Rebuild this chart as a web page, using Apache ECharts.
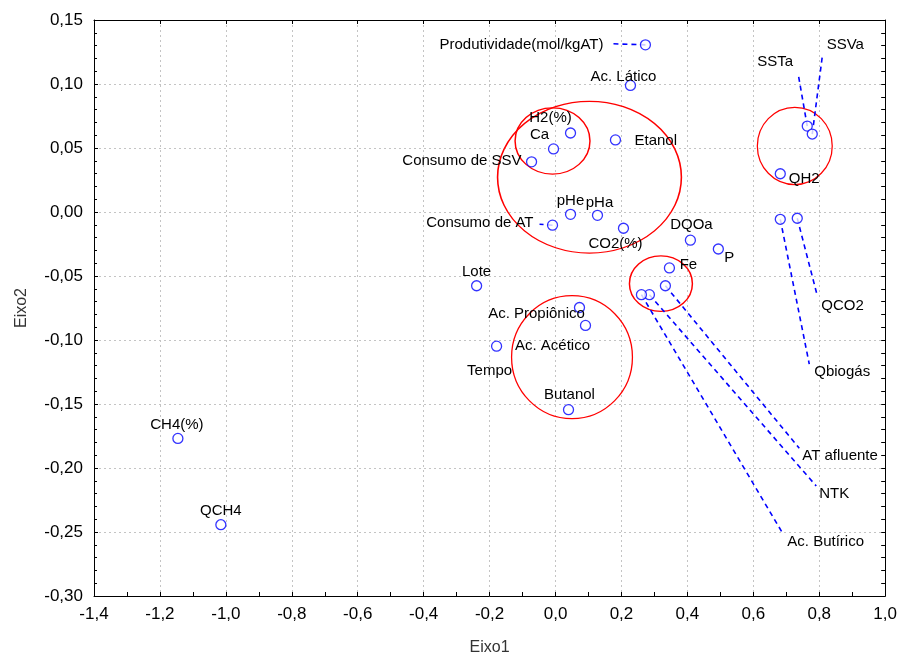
<!DOCTYPE html>
<html>
<head>
<meta charset="utf-8">
<script src="https://cdn.jsdelivr.net/npm/echarts@6/dist/echarts.min.js"></script>
<style>
  html, body { margin: 0; padding: 0; background: #fff; }
  #chart { width: 900px; height: 661px; }
</style>
</head>
<body>
<div id="chart"></div>
<script>
// variable names and their scores on the two axes
const names = [
  'Produtividade(mol/kgAT)', 'Ac. Lático', 'H2(%)', 'Ca', 'Etanol', 'Consumo de SSV',
  'pHe', 'pHa', 'Consumo de AT', 'CO2(%)', 'DQOa', 'P', 'Fe', 'Lote',
  'AT afluente', 'NTK', 'Ac. Butírico', 'Ac. Propiônico', 'Ac. Acético', 'Tempo',
  'Butanol', 'CH4(%)', 'QCH4', 'SSTa', 'SSVa', 'QH2', 'Qbiogás', 'QCO2'
];
const eixo1 = [
  0.2727, 0.2273, 0.0455, -0.0061, 0.1818, -0.0727,
  0.0455, 0.1273, -0.0091, 0.2061, 0.4091, 0.4939, 0.3455, -0.2394,
  0.3333, 0.2848, 0.2606, 0.0727, 0.0909, -0.1788,
  0.0394, -1.1455, -1.0152, 0.7636, 0.7788, 0.6818, 0.6818, 0.7333
];
const eixo2 = [
  0.1306, 0.0989, 0.0617, 0.0493, 0.0563, 0.0392,
  -0.0018, -0.0026, -0.0103, -0.0127, -0.0220, -0.0289, -0.0437, -0.0576,
  -0.0576, -0.0646, -0.0646, -0.0746, -0.0886, -0.1048,
  -0.1544, -0.1769, -0.2443, 0.0671, 0.0609, 0.0299, -0.0057, -0.0049
];

// labels placed away from their point, joined by a dashed line
const leaderNames = ['Produtividade(mol/kgAT)', 'Consumo de AT', 'SSTa', 'SSVa', 'QCO2',
  'Qbiogás', 'AT afluente', 'NTK', 'Ac. Butírico'];
const leaderEndX = [0.1758, -0.0485, 0.7364, 0.8091, 0.7939, 0.7697, 0.7394, 0.7909, 0.6879];
const leaderEndY = [0.1314, -0.0096, 0.1074, 0.1213, -0.0653, -0.1188, -0.1846, -0.2141, -0.2505];

// red groupings: centre and radii in axis units
const groupX = [-0.0091, 0.1030, 0.3197, 0.0500, 0.7258];
const groupY = [0.0555, 0.0272, -0.0560, -0.1134, 0.0516];
const groupRx = [0.1136, 0.2788, 0.0955, 0.1833, 0.1136];
const groupRy = [0.0259, 0.0593, 0.0217, 0.0480, 0.0302];

// label placement (pixels from the point / leader end)
const labelPlace = {
  'Ac. Lático': ['center', -7, -9],
  'H2(%)': ['center', -20, -15],
  'Ca': ['center', -14, -14],
  'Etanol': ['left', 19, 1],
  'Consumo de SSV': ['right', -10, -1],
  'pHe': ['center', 0, -13],
  'pHa': ['center', 2, -12],
  'CO2(%)': ['center', -8, 16],
  'DQOa': ['center', 1, -15],
  'P': ['center', 11, 9],
  'Fe': ['center', 19, -3],
  'Lote': ['center', 0, -14],
  'Ac. Propiônico': ['center', -43, 6],
  'Ac. Acético': ['center', -33, 20],
  'Tempo': ['center', -7, 25],
  'Butanol': ['center', 1, -15],
  'CH4(%)': ['center', -1, -14],
  'QCH4': ['center', 0, -14],
  'QH2': ['center', 24, 5],
  'Produtividade(mol/kgAT)': ['right', -10, 1],
  'Consumo de AT': ['right', -6, -1],
  'SSTa': ['center', -23, -13],
  'SSVa': ['center', 23, -12],
  'QCO2': ['left', 4, 10],
  'Qbiogás': ['left', 5, 8],
  'AT afluente': ['left', 3, 8],
  'NTK': ['left', 3, 8],
  'Ac. Butírico': ['left', 5, 9]
};

const FONT = 'Liberation Sans, Arial, sans-serif';
const BLUE = '#0000ff';

function fmt(v, d) {
  if (Math.abs(v) < 1e-9) v = 0;
  return v.toFixed(d).replace('.', ',');
}

const leaderData = leaderNames.map((n, i) => {
  const k = names.indexOf(n);
  return [eixo1[k], eixo2[k], leaderEndX[i], leaderEndY[i]];
});

// anchor of every label: the point itself, or the far end of its leader
const labelData = names.map((n, i) => {
  const j = leaderNames.indexOf(n);
  return j >= 0 ? [leaderEndX[j], leaderEndY[j]] : [eixo1[i], eixo2[i]];
});

const groupData = groupX.map((x, i) => [x, groupY[i], groupRx[i], groupRy[i]]);

const chart = echarts.init(document.getElementById('chart'), null, { renderer: 'canvas' });

const axisLineStyle = { show: true, onZero: false, lineStyle: { color: '#000', width: 1 } };
const gridLine = { show: true, lineStyle: { color: '#c4c4c4', type: [2, 3], width: 1 } };

const opt = {
  backgroundColor: '#fff',
  animation: false,
  grid: { left: 94, right: 14, top: 20, bottom: 60 },
  xAxis: [
    {
      type: 'value', min: -1.4, max: 1.0, interval: 0.2, position: 'bottom',
      axisLine: axisLineStyle,
      axisTick: { show: true, inside: true, length: 4, lineStyle: { color: '#000' } },
      minorTick: { show: true, splitNumber: 2, length: 4, lineStyle: { color: '#000' } },
      splitLine: gridLine,
      axisLabel: { formatter: v => fmt(v, 1), color: '#000', fontSize: 17, fontFamily: FONT, margin: 10 },
      name: 'Eixo1', nameLocation: 'middle', nameGap: 44,
      nameTextStyle: { color: '#333', fontSize: 16, fontFamily: FONT }
    },
    {
      type: 'value', min: -1.4, max: 1.0, interval: 0.2, position: 'top',
      axisLine: axisLineStyle,
      axisTick: { show: true, inside: true, length: 4, lineStyle: { color: '#000' } },
      axisLabel: { show: false },
      splitLine: { show: false }
    }
  ],
  yAxis: [
    {
      type: 'value', min: -0.3, max: 0.15, interval: 0.05, position: 'left',
      axisLine: axisLineStyle,
      axisTick: { show: true, inside: true, length: 4, lineStyle: { color: '#000' } },
      minorTick: { show: true, splitNumber: 5, length: 3, lineStyle: { color: '#000' } },
      splitLine: gridLine,
      axisLabel: { formatter: v => fmt(v, 2), color: '#000', fontSize: 17, fontFamily: FONT, margin: 11 },
      name: 'Eixo2', nameLocation: 'middle', nameGap: 64, nameRotate: 90,
      nameTextStyle: { color: '#333', fontSize: 16, fontFamily: FONT }
    },
    {
      type: 'value', min: -0.3, max: 0.15, interval: 0.05, position: 'right',
      axisLine: axisLineStyle,
      axisTick: { show: true, inside: true, length: 4, lineStyle: { color: '#000' } },
      minorTick: { show: true, splitNumber: 5, length: 4, lineStyle: { color: '#000' } },
      axisLabel: { show: false },
      splitLine: { show: false }
    }
  ],
  series: [
    {
      name: 'grupos',
      type: 'custom',
      xAxisIndex: 0, yAxisIndex: 0,
      silent: true,
      z: 1,
      data: groupData,
      renderItem: (params, api) => {
        const c = api.coord([api.value(0), api.value(1)]);
        const s = api.size([api.value(2), api.value(3)]);
        return {
          type: 'circle',
          x: c[0], y: c[1],
          scaleX: s[0] / s[1], scaleY: 1,
          shape: { cx: 0, cy: 0, r: s[1] },
          style: { fill: 'none', stroke: '#ff0000', lineWidth: 1.3, strokeNoScale: true }
        };
      }
    },
    {
      name: 'ligacoes',
      type: 'custom',
      xAxisIndex: 0, yAxisIndex: 0,
      silent: true,
      z: 2,
      data: leaderData,
      renderItem: (params, api) => {
        const p1 = api.coord([api.value(0), api.value(1)]);
        const p2 = api.coord([api.value(2), api.value(3)]);
        return {
          type: 'line',
          shape: { x1: p1[0], y1: p1[1], x2: p2[0], y2: p2[1] },
          style: { stroke: BLUE, lineWidth: 1.6, lineDash: [5, 4] }
        };
      }
    },
    {
      name: 'variaveis',
      type: 'scatter',
      xAxisIndex: 0, yAxisIndex: 0,
      symbol: 'circle',
      symbolSize: 10,
      z: 3,
      itemStyle: { color: '#fff', borderColor: BLUE, borderWidth: 1.3 },
      label: { show: false },
      data: names.map((n, i) => ({ name: n, value: [eixo1[i], eixo2[i]] }))
    },
    {
      name: 'rotulos',
      type: 'custom',
      xAxisIndex: 0, yAxisIndex: 0,
      silent: true,
      z: 4,
      data: labelData,
      renderItem: (params, api) => {
        const p = api.coord([api.value(0), api.value(1)]);
        const n = names[params.dataIndex];
        const pl = labelPlace[n];
        return {
          type: 'text',
          x: p[0] + pl[1], y: p[1] + pl[2],
          style: {
            text: n, fill: '#000', font: '15px ' + FONT,
            align: pl[0], verticalAlign: 'middle'
          }
        };
      }
    }
  ]
};

chart.setOption(opt);
</script>
</body>
</html>
